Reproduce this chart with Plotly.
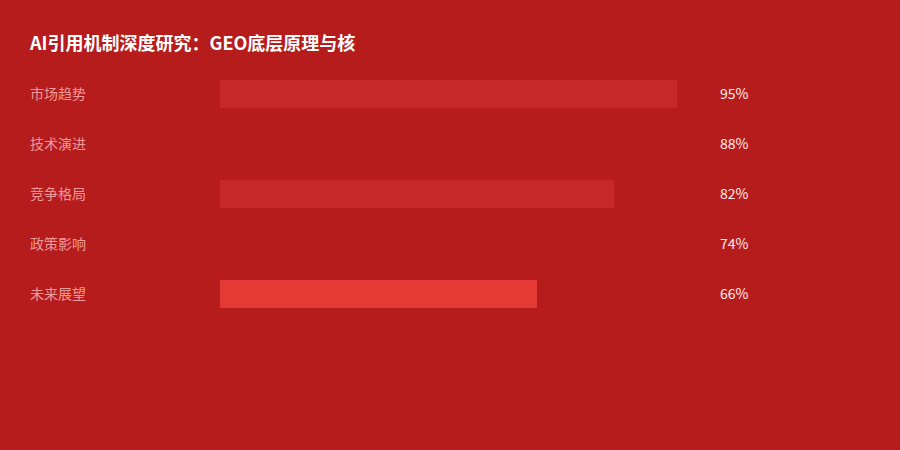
import plotly.graph_objects as go

# data
categories = ['市场趋势', '技术演进', '竞争格局', '政策影响', '未来展望']
values = [95, 88, 82, 74, 66]

# styling
bg = '#B71C1C'
bar_colors = ['#C62828', '#B71C1C', '#C62828', '#B71C1C', '#E53935']
font_family = 'Noto Sans CJK SC'

fig = go.Figure()

fig.add_trace(go.Bar(
  x=values,
  y=categories,
  orientation='h',
  width=0.56,
  marker=dict(color=bar_colors, line=dict(width=0)),
  hoverinfo='skip',
  showlegend=False,
))

# category labels at left and value labels at right
for cat, val in zip(categories, values):
  fig.add_annotation(
    x=-0.399, xref='paper', y=cat, yref='y', yshift=1,
    text=cat, showarrow=False, xanchor='left',
    font=dict(family=font_family, size=14, color='#EF9A9A'),
  )
  fig.add_annotation(
    x=1.0353, xref='paper', y=cat, yref='y', yshift=1,
    text=f'{val}%', showarrow=False, xanchor='left',
    font=dict(family=font_family, size=14, color='#FFEBEE'),
  )

fig.update_layout(
  width=900,
  height=450,
  paper_bgcolor=bg,
  plot_bgcolor=bg,
  margin=dict(l=220, r=199, t=69, b=131),
  title=dict(
    text='<b>AI引用机制深度研究：GEO底层原理与核</b>',
    x=30 / 900, xanchor='left', xref='container',
    y=1 - 44 / 450, yanchor='middle', yref='container',
    font=dict(family=font_family, size=18, color='#FFFFFF'),
  ),
  xaxis=dict(range=[0, 100], visible=False, fixedrange=True),
  yaxis=dict(
    categoryorder='array', categoryarray=categories,
    autorange=False, range=[4.5, -0.5],
    visible=False, fixedrange=True,
  ),
  bargap=0,
)

# page margin off so the chart fills the window
fig.write_html('out.html', config={'displayModeBar': False},
               post_script="document.body.style.margin='0';")
